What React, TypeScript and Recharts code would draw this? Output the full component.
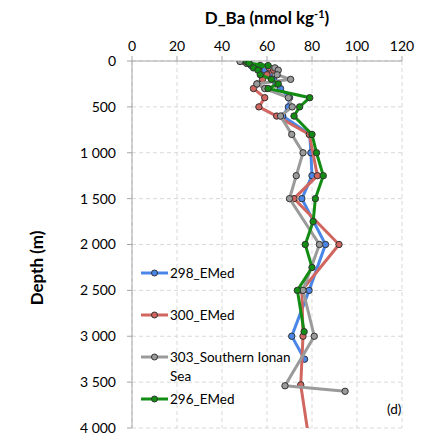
import React from 'react';
import { ScatterChart, Scatter, XAxis, YAxis, CartesianGrid } from 'recharts';

// Series 298_EMed
const depth298 = [5, 25, 50, 75, 100, 150, 200, 250, 300, 400, 500, 600, 800, 1000, 1250, 1500, 2000, 2500, 3000, 3250];
const value298 = [50, 51, 53, 56, 59, 61, 63, 64, 66, 70, 69.5, 67, 79, 79.5, 80, 75.5, 86, 78.7, 71, 76.7];
// Series 300_EMed
const depth300 = [5, 25, 50, 75, 100, 150, 200, 250, 300, 400, 500, 600, 800, 1250, 1500, 2000, 2500, 3000, 3530, 4100];
const value300 = [50, 52, 57, 61, 63, 60, 58, 55.7, 54, 59, 56.4, 64.3, 78.8, 82.4, 72, 92, 75.5, 76, 75, 78.5];
// Series 303_Southern Ionan Sea
const depth303 = [5, 25, 50, 75, 100, 150, 200, 250, 300, 400, 500, 600, 800, 1000, 1250, 1500, 2000, 2500, 3000, 3540, 3600];
const value303 = [48, 51, 57, 63.5, 65, 64.5, 70.5, 55.5, 59, 69.5, 71.2, 66, 71, 76, 73, 70, 83.3, 76, 81, 68, 94.7];
// Series 296_EMed
const depth296 = [5, 25, 50, 75, 100, 150, 200, 250, 300, 400, 500, 600, 800, 1000, 1250, 1500, 1750, 2000, 2250, 2500, 2950];
const value296 = [51, 52, 60.5, 54, 56, 57, 62, 65, 60.5, 79, 74.5, 72, 80, 82, 85, 81.5, 80.5, 77, 80, 73.5, 76.5];

const seriesNames = ['298_EMed', '300_EMed', '303_Southern Ionan Sea', '296_EMed'];
const xTicks = [0, 20, 40, 60, 80, 100, 120];
const yTicks = [0, 500, 1000, 1500, 2000, 2500, 3000, 3500, 4000];
const yTickLabels = ['0', '500', '1 000', '1 500', '2 000', '2 500', '3 000', '3 500', '4 000'];

const colors = ['#4a86e8', '#d0665f', '#9a9a9a', '#128c12'];

const build = (d: number[], v: number[]) => d.map((dd, i) => ({ d: dd, v: v[i] }));
const seriesData = [
  build(depth298, value298),
  build(depth300, value300),
  build(depth303, value303),
  build(depth296, value296),
];

const FONT = 'Lato, "Open Sans", sans-serif';

const makeDot = (color: string) => (props: any) => {
  const { cx, cy, payload } = props;
  if (cx == null || cy == null) return <g />;
  if (payload && payload.d > 4000) return <g />;
  return <circle cx={cx} cy={cy} r={3.2} fill={color} stroke="#333" strokeWidth={1} />;
};

const legendRows = [
  { y: 273, lines: ['298_EMed'] },
  { y: 315, lines: ['300_EMed'] },
  { y: 357, lines: ['303_Southern Ionan', 'Sea'] },
  { y: 399, lines: ['296_EMed'] },
];

export default function App() {
  return (
    <div style={{ position: 'absolute', left: 0, top: 0, width: 427, height: 441, background: '#fff' }}>
      <ScatterChart width={427} height={441} margin={{ top: 31, right: 25, bottom: 13, left: 72 }}>
        <CartesianGrid stroke="#d9d9d9" strokeDasharray="4 3" />
        <XAxis
          type="number"
          dataKey="v"
          orientation="top"
          domain={[0, 120]}
          ticks={xTicks}
          height={30}
          tickSize={5}
          tickMargin={5}
          axisLine={{ stroke: '#a6a6a6' }}
          tickLine={{ stroke: '#a6a6a6' }}
          tick={{ fill: '#000', fontSize: 14, fontFamily: FONT }}
          allowDataOverflow
        />
        <YAxis
          type="number"
          dataKey="d"
          reversed
          domain={[0, 4000]}
          ticks={yTicks}
          width={60}
          tickSize={5}
          tickMargin={11}
          axisLine={{ stroke: '#a6a6a6' }}
          tickLine={{ stroke: '#a6a6a6' }}
          tick={{ fill: '#000', fontSize: 14, fontFamily: FONT }}
          tickFormatter={(val: number) => yTickLabels[yTicks.indexOf(val)] ?? String(val)}
          allowDataOverflow
        />
        {seriesData.map((data, i) => (
          <Scatter
            key={seriesNames[i]}
            name={seriesNames[i]}
            data={data}
            fill={colors[i]}
            line={{ stroke: colors[i], strokeWidth: 3 }}
            lineType="joint"
            shape={makeDot(colors[i])}
            isAnimationActive={false}
          />
        ))}
      </ScatterChart>
      <svg width={427} height={441} style={{ position: 'absolute', left: 0, top: 0, pointerEvents: 'none' }}>
        <text x={267} y={24} textAnchor="middle" fontFamily={FONT} fontWeight="bold" fontSize={17} fill="#000">
          D_Ba (nmol kg<tspan dy={-6} fontSize={11}>-1</tspan><tspan dy={6}>)</tspan>
        </text>
        <text
          x={0}
          y={0}
          transform="translate(43,268) rotate(-90)"
          textAnchor="middle"
          fontFamily={FONT}
          fontWeight="bold"
          fontSize={17}
          fill="#000"
        >
          Depth (m)
        </text>
        {legendRows.map((r, i) => (
          <g key={i}>
            <line x1={141} x2={168} y1={r.y} y2={r.y} stroke={colors[i]} strokeWidth={3} />
            <circle cx={154.5} cy={r.y} r={3} fill={colors[i]} stroke="#333" strokeWidth={1} />
            {r.lines.map((t, j) => (
              <text key={j} x={170} y={r.y + 5 + j * 19} fontFamily={FONT} fontSize={13.5} fill="#000">
                {t}
              </text>
            ))}
          </g>
        ))}
        <text x={387} y={414} fontFamily={FONT} fontSize={13.5} fill="#000">(d)</text>
      </svg>
    </div>
  );
}
